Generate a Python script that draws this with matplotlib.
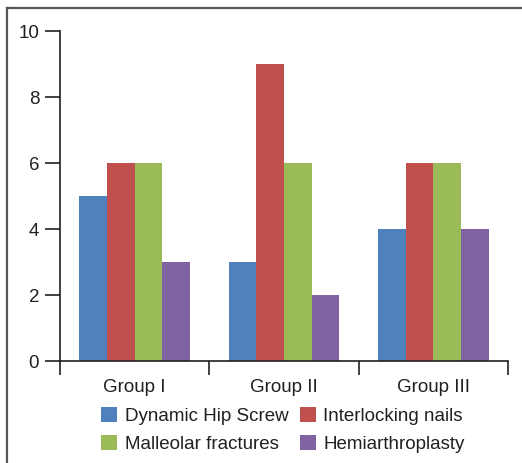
import matplotlib.pyplot as plt
import numpy as np
from matplotlib.lines import Line2D

plt.rcParams['font.family'] = ['Liberation Sans', 'DejaVu Sans']

groups = ['Group I', 'Group II', 'Group III']
series = ['Dynamic Hip Screw', 'Interlocking nails', 'Malleolar fractures', 'Hemiarthroplasty']
dhs = [5, 3, 4]
nails = [6, 9, 6]
malleolar = [6, 6, 6]
hemi = [3, 2, 4]
colors = ['#4F81BD', '#C0504D', '#9BBB59', '#8064A2']

W, H = 522, 463
fig = plt.figure(figsize=(W / 100, H / 100), dpi=100)
ax = fig.add_axes([60 / W, (H - 361) / H, (508 - 60) / W, (361 - 31) / H])

x = np.arange(len(groups))
bw = 0.185
vals = [dhs, nails, malleolar, hemi]
handles = []
for i, (v, c, name) in enumerate(zip(vals, colors, series)):
    b = ax.bar(x + (i - 1.5) * bw, v, bw, color=c, label=name, linewidth=0)
    handles.append(b)

ax.set_xlim(-0.5, 2.5)
ax.set_ylim(0, 10)
ax.set_yticks([0, 2, 4, 6, 8, 10])
ax.set_xticks(x)
ax.set_xticklabels(groups)
ax.set_xticks([-0.5, 0.5, 1.5, 2.5], minor=True)
ax.tick_params(axis='x', which='major', length=0, pad=13, labelsize=13.5, colors='#231f20')
ax.tick_params(axis='x', which='minor', length=10, width=1.2, direction='out', color='#231f20')
ax.tick_params(axis='y', length=11, width=1.2, direction='out', labelsize=13.5, pad=4, colors='#231f20')
for s in ['top', 'right']:
    ax.spines[s].set_visible(False)
for s in ['left', 'bottom']:
    ax.spines[s].set_linewidth(1.2)
    ax.spines[s].set_color('#231f20')

# legend fills by column, so reorder to get row-wise layout
order = [0, 2, 1, 3]
fig.legend(handles=[handles[i] for i in order], labels=[series[i] for i in order],
           ncol=2, loc='center',
           bbox_to_anchor=(283 / W, 1 - 430 / H), frameon=False, fontsize=13.5,
           handlelength=0.85, handleheight=0.85, handletextpad=0.4,
           columnspacing=0.6, labelspacing=0.55, labelcolor='#231f20')

# outer frame (cropped figure border)
fig.add_artist(Line2D([7 / W, 7 / W], [0, 1 - 8 / H], color='#555555', lw=1.6,
                      transform=fig.transFigure))
fig.add_artist(Line2D([7 / W, 1], [1 - 8 / H, 1 - 8 / H], color='#555555', lw=1.6,
                      transform=fig.transFigure))

fig.savefig('out.png', dpi=100)
